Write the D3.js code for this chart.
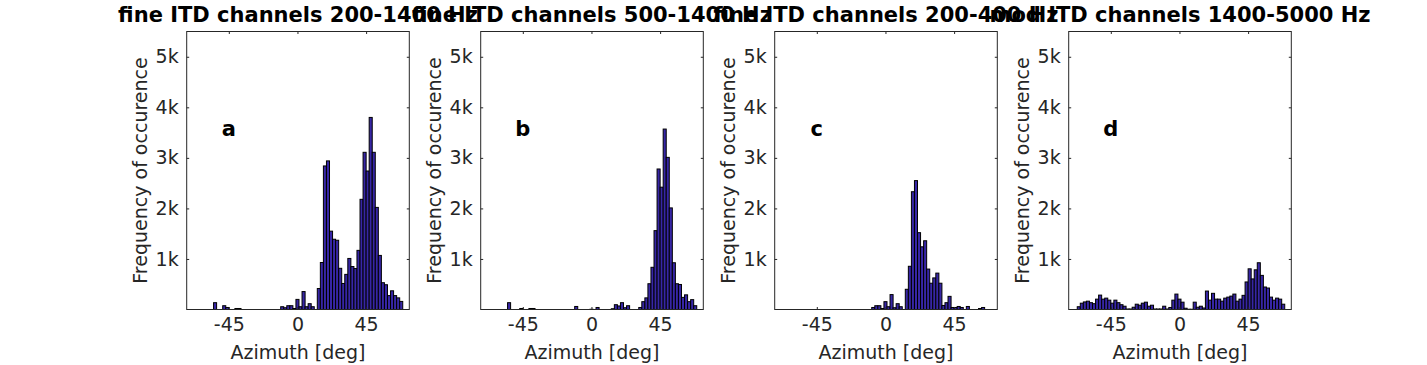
<!DOCTYPE html>
<html>
<head>
<meta charset="utf-8">
<script src="https://cdn.jsdelivr.net/npm/d3@7"></script>
<style>
  body { margin: 0; background: #fff; }
  text { font-family: "DejaVu Sans", sans-serif; fill: #262626; }
</style>
</head>
<body>
<div id="chart"></div>
<script>
// bin centers (deg), 2 deg wide bins
const centers = d3.range(-66, 69, 2);

// counts per bin (68 bins each)
const countsA = [0,0,0,0,0,0,135,0,0,75, 40,0,0,20,20,0,0,0,0,0, 0,0,0,0,0,0,0,0,55,35,
  75,75,20,200,55,355,55,115,55,0, 415,930,2840,2940,1550,1390,1370,815,515,695,
  1010,850,810,1170,2180,3110,2740,3800,3110,2020, 1070,530,490,275,370,275,230,160];
const countsB = [0,0,0,0,0,0,135,0,0,0, 20,0,0,20,20,0,0,0,0,0, 0,0,0,0,0,0,0,0,60,0,
  0,0,0,5,0,40,0,0,0,0, 15,95,70,135,35,75,0,0,0,40,
  155,230,510,835,1560,2780,2420,3570,3010,2010, 925,510,495,240,290,155,195,75];
const countsC = [0,0,0,0,0,0,0,0,0,0, 0,0,0,0,0,0,0,0,0,0, 0,0,0,0,0,0,0,0,0,40,
  75,75,20,155,55,295,35,115,55,0, 400,855,2330,2550,1520,1240,1360,800,520,625,
  720,520,80,135,260,40,40,60,40,0, 60,0,0,0,20,40,0,0];
const countsD = [55,125,150,165,135,115,205,285,205,225, 185,125,185,135,95,65,10,10,45,105,
  85,125,145,65,85,10,10,10,65,10, 40,185,305,205,145,25,5,5,145,45,
  65,30,365,185,320,205,205,165,225,245, 265,305,165,205,280,545,805,605,785,925,
  675,445,425,245,185,225,205,105];

const panelCounts = [countsA, countsB, countsC, countsD];
const titles = ["fine ITD channels 200-1400 Hz", "fine ITD channels 500-1400 Hz",
  "fine ITD channels 200-400 Hz", "mod ITD channels 1400-5000 Hz"];
const letters = ["a", "b", "c", "d"];
const xTicks = [-45, 0, 45];
const yTicks = [1000, 2000, 3000, 4000, 5000];

const svgWidth = 1427;
const svgHeight = 365;

const panel = { left: 186.7, step: 294, width: 222.6, top: 31.5, bottom: 309.5 };

const svg = d3.select("#chart")
  .append("svg")
  .attr("width", svgWidth)
  .attr("height", svgHeight);

const y = d3.scaleLinear()
  .domain([0, 5500])
  .range([panel.bottom, panel.top]);

panelCounts.forEach((counts, i) => {
  const x0 = panel.left + i * panel.step;
  const x = d3.scaleLinear()
    .domain([-72.6, 73.3])
    .range([x0, x0 + panel.width]);

  const g = svg.append("g");
  const bins = centers.map((c, j) => ({ c: c, n: counts[j] })).filter(d => d.n > 0);

  // bars
  g.selectAll("rect.bar")
    .data(bins)
    .enter()
    .append("rect")
    .attr("class", "bar")
    .attr("x", d => x(d.c - 1))
    .attr("y", d => y(d.n))
    .attr("width", d => x(d.c + 1) - x(d.c - 1))
    .attr("height", d => y(0) - y(d.n))
    .attr("fill", "#3726a6")
    .attr("stroke", "#000")
    .attr("stroke-width", 1);

  // axes: ticks inside, on all sides
  const tickIn = 2.5;
  const bottomAxis = d3.axisBottom(x).tickValues(xTicks).tickSize(-tickIn).tickPadding(8)
    .tickFormat(d => String(d));
  const topAxis = d3.axisTop(x).tickValues(xTicks).tickSize(-tickIn).tickFormat("");
  const leftAxis = d3.axisLeft(y).tickValues(yTicks).tickSize(-tickIn).tickPadding(8)
    .tickFormat(d => (d / 1000) + "k");
  const rightAxis = d3.axisRight(y).tickValues(yTicks).tickSize(-tickIn).tickFormat("");

  const axes = [
    g.append("g").attr("transform", `translate(0, ${panel.bottom})`).call(bottomAxis),
    g.append("g").attr("transform", `translate(0, ${panel.top})`).call(topAxis),
    g.append("g").attr("transform", `translate(${x0}, 0)`).call(leftAxis),
    g.append("g").attr("transform", `translate(${x0 + panel.width}, 0)`).call(rightAxis)
  ];
  axes.forEach(a => {
    a.select(".domain").remove();
    a.selectAll("line").attr("stroke", "#262626");
    a.selectAll("text").attr("font-size", "19px").attr("fill", "#262626")
      .attr("font-family", "DejaVu Sans, sans-serif");
  });

  // box
  g.append("rect")
    .attr("x", x0)
    .attr("y", panel.top)
    .attr("width", panel.width)
    .attr("height", panel.bottom - panel.top)
    .attr("fill", "none")
    .attr("stroke", "#262626")
    .attr("stroke-width", 1);

  // axis labels
  g.append("text")
    .attr("x", x0 + panel.width / 2)
    .attr("y", 359)
    .attr("text-anchor", "middle")
    .attr("font-size", "19px")
    .text("Azimuth [deg]");

  g.append("text")
    .attr("transform", `translate(${x0 - 40}, ${(panel.top + panel.bottom) / 2}) rotate(-90)`)
    .attr("text-anchor", "middle")
    .attr("font-size", "19px")
    .text("Frequency of occurence");

  // panel letter
  g.append("text")
    .attr("x", x(-45))
    .attr("y", y(3600) + 8)
    .attr("text-anchor", "middle")
    .attr("font-size", "21px")
    .attr("font-weight", "bold")
    .style("fill", "#000")
    .text(letters[i]);

  // title
  g.append("text")
    .attr("x", x0 + panel.width / 2)
    .attr("y", 22)
    .attr("text-anchor", "middle")
    .attr("font-size", "21px")
    .attr("font-weight", "bold")
    .style("fill", "#000")
    .text(titles[i]);
});
</script>
</body>
</html>
